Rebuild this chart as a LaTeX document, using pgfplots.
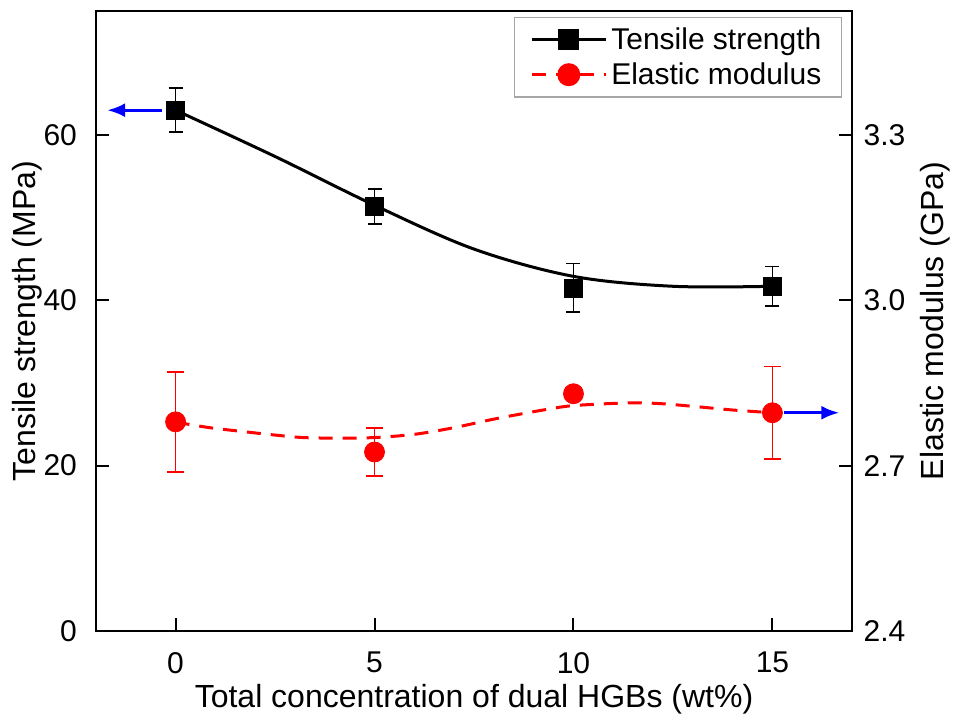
\documentclass[border=0pt]{standalone}
\usepackage{fontspec}
\setmainfont{Liberation Sans}
\usepackage{pgfplots}
\pgfplotsset{compat=1.18}
\usetikzlibrary{arrows.meta}

\newcommand{\tickfont}{\fontsize{15}{18}\selectfont}
\newcommand{\labfont}{\fontsize{16}{19}\selectfont}

\pgfplotsset{
  common/.style={
    scale only axis, width=378pt, height=310pt,
    at={(0,0)}, anchor=south west,
    xmin=-2, xmax=17,
    tick align=inside,
    major tick length=6.5pt,
    every tick/.style={black, line width=1pt},
    axis line style={line width=1pt},
    tick label style={font=\tickfont},
    /pgf/number format/assume math mode=true,
  },
}

\begin{document}
\begin{tikzpicture}
\path[use as bounding box] (-48pt,-45.5pt) rectangle (430pt,315.5pt);

% left axis: tensile strength
\begin{axis}[
  common,
  ymin=0, ymax=75,
  xtick={0,5,10,15}, ytick={0,20,40,60},
  xtick pos=bottom, ytick pos=left,
  xticklabel style={yshift=-7pt},
  yticklabel style={xshift=-6pt},
  xlabel={Total concentration of dual HGBs (wt\%)},
  ylabel={Tensile strength (MPa)},
  every axis x label/.style={at={(axis description cs:0.5,-0.1095)}, anchor=center, font=\labfont},
  every axis y label/.style={at={(axis description cs:-0.0915,0.5)}, rotate=90, anchor=center, font=\labfont},
]
% fitted curve
\addplot[black, line width=1.5pt, smooth, tension=0.55] coordinates {
  (0,63.0) (2.5,57.4) (5,51.5) (7.5,46.2) (10,42.9) (12.5,41.7) (15,41.7)
};
% measured points
\addplot[black, only marks, mark=square*, mark size=4.5pt,
  error bars/.cd, y dir=both, y explicit,
  error bar style={line width=0.9pt},
  error mark options={rotate=90, mark size=3.5pt, line width=0.9pt}]
  coordinates {
  (0,63.0) +- (0,2.65)
  (5,51.35) +- (0,2.1)
  (10,41.5) +- (0,2.95)
  (15,41.7) +- (0,2.4)
};
\addplot[blue, line width=1.5pt, -{Latex[length=9pt,width=7pt]}]
  coordinates {(-0.35,63) (-1.72,63)};
\end{axis}

% right axis: elastic modulus
\begin{axis}[
  common,
  ymin=2.4, ymax=3.525,
  axis x line=none, axis y line*=right,
  ytick={2.4,2.7,3.0,3.3}, ytick pos=right,
  tick align=inside,
  yticklabel style={xshift=2.3pt, /pgf/number format/.cd, fixed, fixed zerofill, precision=1},
  ylabel={Elastic modulus (GPa)},
  every axis y label/.style={at={(axis description cs:1.1098,0.5)}, rotate=90, anchor=center, font=\labfont},
  legend style={at={(axis description cs:1,1)}, anchor=north east,
    xshift=-5pt, yshift=-3pt, draw=gray!70, line width=0.6pt,
    font=\tickfont, inner xsep=8pt, inner ysep=3pt, row sep=1pt},
  legend cell align=left,
  legend image code/.code={
    \draw[mark repeat=2, mark phase=2] plot coordinates {(0pt,0pt) (18.5pt,0pt) (37pt,0pt)};
  },
]
\addlegendimage{black, line width=1.5pt, mark=square*, mark size=4.5pt}
\addlegendentry{Tensile strength}
\addlegendimage{red, line width=1.5pt, dash pattern=on 7pt off 5pt, mark=*, mark size=5pt, mark options={solid}}
\addlegendentry{Elastic modulus}
% fitted curve
\addplot[red, line width=1.5pt, dash pattern=on 7pt off 5pt, smooth, tension=0.5, forget plot] coordinates {
  (0,2.779) (0.85,2.769) (1.68,2.762) (2.44,2.756) (3.2,2.751) (4.1,2.750)
  (5.0,2.751) (5.9,2.756) (6.55,2.763) (7.2,2.772) (7.9,2.783) (8.47,2.791)
  (9.32,2.802) (10,2.809) (11.4,2.814) (12.2,2.8125) (13.1,2.807) (14,2.801)
  (15,2.796)
};
% measured points
\addplot[red, only marks, mark=*, mark size=5pt, forget plot,
  error bars/.cd, y dir=both, y explicit,
  error bar style={line width=0.9pt},
  error mark options={rotate=90, mark size=4.2pt, line width=0.9pt}]
  coordinates {
  (0,2.7795) +- (0,0.091)
  (5,2.7248) +- (0,0.043)
  (10,2.8305) +- (0,0.01)
  (15,2.796) +- (0,0.084)
};
\addplot[blue, line width=1.5pt, -{Latex[length=9pt,width=7pt]}, forget plot]
  coordinates {(15.3,2.796) (16.68,2.796)};
\end{axis}
\end{tikzpicture}
\end{document}
